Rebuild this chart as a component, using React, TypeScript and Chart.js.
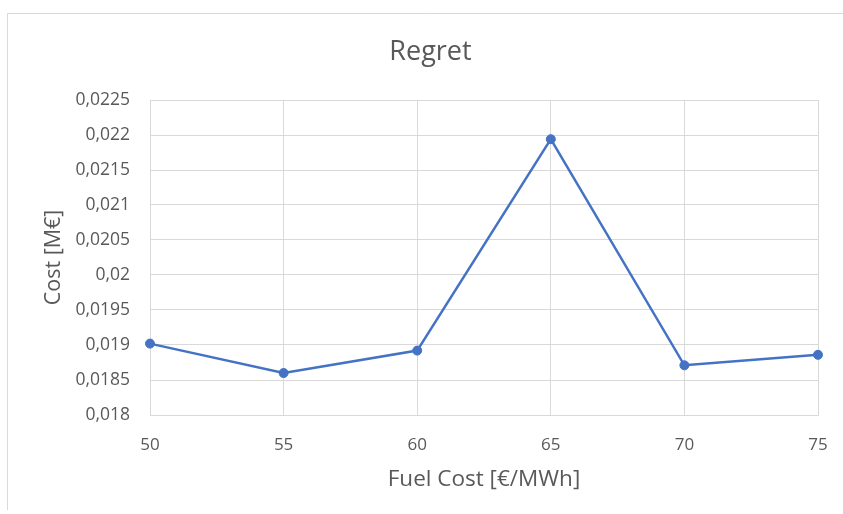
import React, { useEffect, useRef } from "react";
import { Chart, registerables } from "chart.js";

Chart.register(...registerables);

const categories = ["50", "55", "60", "65", "70", "75"];
const regretValues = [0.01902, 0.0186, 0.01892, 0.02194, 0.01871, 0.01886];
const yTickValues = [0.018, 0.0185, 0.019, 0.0195, 0.02, 0.0205, 0.021, 0.0215, 0.022, 0.0225];
const yTickLabels = ["0,018", "0,0185", "0,019", "0,0195", "0,02", "0,0205", "0,021", "0,0215", "0,022", "0,0225"];

const FONT = "'Open Sans', Lato, sans-serif";
const TEXT = "#595959";
const GRID = "#d9d9d9";
const BLUE = "#4472C4";

const frame = {
  id: "frame",
  beforeDraw(chart: any) {
    const ctx = chart.ctx;
    ctx.save();
    ctx.fillStyle = "#ffffff";
    ctx.fillRect(0, 0, chart.width, chart.height);
    ctx.strokeStyle = GRID;
    ctx.lineWidth = 1;
    ctx.beginPath();
    ctx.moveTo(7.5, 510);
    ctx.lineTo(7.5, 13.5);
    ctx.lineTo(chart.width, 13.5);
    ctx.stroke();
    ctx.restore();
  },
};

export default function App() {
  const ref = useRef<HTMLCanvasElement>(null);
  useEffect(() => {
    document.body.style.margin = "0";
    const canvas = ref.current;
    if (!canvas) return;
    const chart = new Chart(canvas, {
      type: "line",
      data: {
        labels: categories,
        datasets: [
          {
            label: "Regret",
            data: regretValues,
            borderColor: BLUE,
            backgroundColor: BLUE,
            borderWidth: 2.5,
            pointRadius: 4.5,
            pointBackgroundColor: BLUE,
            pointBorderColor: BLUE,
            pointBorderWidth: 1,
            tension: 0,
            clip: false as any,
          },
        ],
      },
      options: {
        responsive: false,
        animation: false,
        devicePixelRatio: 1,
        layout: { autoPadding: false, padding: { left: 43, right: 25, top: 0, bottom: 0 } },
        plugins: {
          legend: { display: false },
          tooltip: { enabled: false },
          title: {
            display: true,
            text: "Regret",
            color: TEXT,
            font: { family: FONT, size: 27, weight: "normal" },
            padding: { top: 36, bottom: 31.6 },
          },
        },
        scales: {
          x: {
            type: "category",
            offset: false,
            grid: { color: GRID, drawTicks: false, lineWidth: 1 },
            border: { color: GRID },
            ticks: { color: TEXT, font: { family: FONT, size: 17 }, padding: 20, maxRotation: 0 },
            title: {
              display: true,
              text: "Fuel Cost [€/MWh]",
              color: TEXT,
              font: { family: FONT, size: 22.5 },
              padding: { top: 0, bottom: 21 },
            },
            afterFit(scale: any) {
              scale.height = 99;
              scale.paddingLeft = 0;
              scale.paddingRight = 0;
            },
          },
          y: {
            type: "linear",
            min: 0.018,
            max: 0.0225,
            grid: { color: GRID, drawTicks: false, lineWidth: 1 },
            border: { color: GRID },
            afterBuildTicks(scale: any) {
              scale.ticks = yTickValues.map((v) => ({ value: v }));
            },
            ticks: {
              color: TEXT,
              font: { family: FONT, size: 17.5 },
              padding: 20,
              callback: (_v: any, i: number) => yTickLabels[i],
            },
            title: {
              display: true,
              text: "Cost [M€]",
              color: TEXT,
              font: { family: FONT, size: 21.5, lineHeight: 1 },
              padding: { top: 0, bottom: 0 },
            },
            afterFit(scale: any) {
              scale.width = 107;
              scale.paddingTop = 0;
              scale.paddingBottom = 0;
            },
          },
        },
      },
      plugins: [frame],
    });
    return () => chart.destroy();
  }, []);
  return (
    <div style={{ width: 843, height: 514 }}>
      <canvas ref={ref} width={843} height={514} style={{ display: "block" }} />
    </div>
  );
}
